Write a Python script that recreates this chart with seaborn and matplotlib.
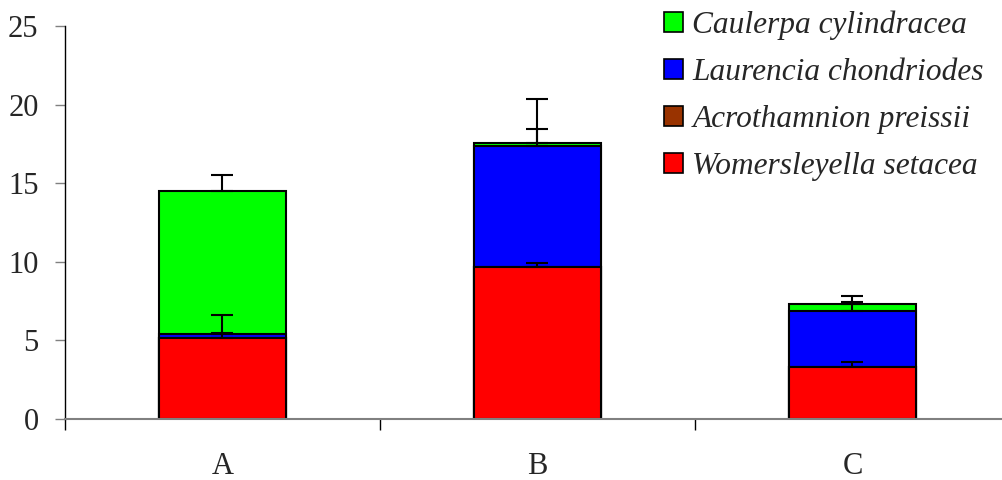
import numpy as np
import pandas as pd
import matplotlib
matplotlib.use("Agg")
import matplotlib.pyplot as plt
from matplotlib.patches import Patch
import seaborn as sns

# ---- data ----
sites = ["A", "B", "C"]
womersleyella = [5.17, 9.69, 3.33]
acrothamnion = [0.0, 0.0, 0.0]
laurencia = [0.22, 7.70, 3.56]
caulerpa = [9.13, 0.19, 0.40]

se_womersleyella = [0.32, 0.25, 0.28]
se_acrothamnion = [0.0, 0.0, 0.0]
se_laurencia = [1.23, 1.08, 0.53]
se_caulerpa = [1.02, 2.80, 0.53]

species = ["Womersleyella setacea", "Acrothamnion preissii",
           "Laurencia chondriodes", "Caulerpa cylindracea"]
colors = ["#ff0000", "#993300", "#0000ff", "#00ff00"]

layers = np.array([womersleyella, acrothamnion, laurencia, caulerpa])
errs = np.array([se_womersleyella, se_acrothamnion, se_laurencia, se_caulerpa])
cum = np.cumsum(layers, axis=0)

sns.set_theme(style="white")
FAM = ["Liberation Serif", "DejaVu Serif"]
plt.rcParams["font.family"] = FAM

fig = plt.figure(figsize=(10.03, 4.8), dpi=100)
ax = fig.add_axes([65 / 1003, 61 / 480, 945 / 1003, 393 / 480])

# draw from the tallest cumulative layer down so all stack segments show
for i in range(len(species) - 1, -1, -1):
    df = pd.DataFrame({"site": sites, "value": cum[i]})
    sns.barplot(data=df, x="site", y="value", color=colors[i], saturation=1,
                width=0.405, edgecolor="black", linewidth=1.5, ax=ax,
                errorbar=None, zorder=2)

# plus-only error bars at the cumulative heights
xpos = np.arange(len(sites))
for i in range(len(species)):
    if np.any(errs[i] > 0):
        ax.errorbar(xpos, cum[i], yerr=[np.zeros(len(sites)), errs[i]],
                    fmt="none", ecolor="black", elinewidth=1.5, capsize=8,
                    capthick=1.5, zorder=3)

ax.set_xlim(-0.5, 2.5)
ax.set_ylim(0, 25)
ax.set_yticks([0, 5, 10, 15, 20, 25])
ax.set_yticklabels(["0", "5", "10", "15", "20", "25"], family=FAM, size=22)
ax.set_xlabel("")
ax.set_ylabel("")

# x: boundary ticks (major) and centred labels (minor)
ax.set_xticks([-0.5, 0.5, 1.5, 2.5])
ax.set_xticklabels([])
ax.set_xticks(xpos, minor=True)
ax.set_xticklabels(sites, minor=True, family=FAM, size=22)
ax.tick_params(axis="x", which="major", direction="out", length=8,
               width=1, color="black", bottom=True)
ax.tick_params(axis="x", which="minor", length=0, pad=24)
ax.tick_params(axis="y", direction="out", length=7, width=1,
               color="#808080", left=True, pad=12)

for s in ["top", "right"]:
    ax.spines[s].set_visible(False)
ax.spines["left"].set_color("black")
ax.spines["left"].set_linewidth(1)
ax.spines["bottom"].set_color("#808080")
ax.spines["bottom"].set_linewidth(1.5)
ax.grid(False)

handles = [Patch(facecolor=colors[i], edgecolor="black", linewidth=1.2,
                 label=species[i]) for i in range(len(species) - 1, -1, -1)]
leg = fig.legend(handles=handles, loc="upper left",
                 bbox_to_anchor=(653 / 1003, 1.0), frameon=False,
                 prop={"family": FAM, "style": "italic", "size": 22.6},
                 handlelength=0.6, handleheight=0.6, handletextpad=0.3,
                 labelspacing=0.57, borderaxespad=0.2, borderpad=0.15)

fig.savefig("out.png", dpi=100)
